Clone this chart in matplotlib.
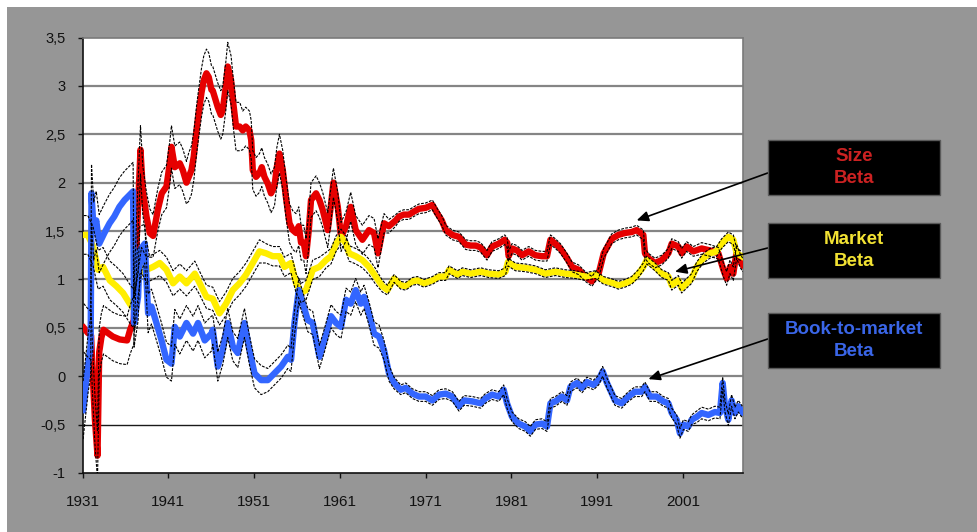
import matplotlib.pyplot as plt
from matplotlib.patches import Rectangle
import numpy as np

plt.rcParams["font.family"] = ["Liberation Sans", "DejaVu Sans"]

W, H = 977, 532

# Rolling factor betas (point estimate and standard error)
size_year = [
    1931.15, 1931.6, 1932.0, 1932.2, 1932.45, 1932.75, 1932.85, 1932.95, 1933.2, 1933.45,
    1934.53, 1935.35, 1936.2, 1936.55, 1936.98, 1937.33, 1937.76, 1938.03, 1938.46, 1938.84,
    1939.23, 1939.78, 1940.24, 1940.79, 1941.17, 1941.37, 1941.76, 1942.34, 1942.69, 1943.12,
    1943.39, 1943.7, 1943.97, 1944.29, 1944.55, 1944.87, 1945.14, 1945.45, 1945.72, 1946.03,
    1946.19, 1946.77, 1947.12, 1947.35, 1947.7, 1947.93, 1948.32, 1948.58, 1948.9, 1949.33,
    1949.68, 1950.03, 1950.46, 1950.67, 1950.85, 1951.23, 1951.63, 1951.9, 1952.21, 1952.6,
    1952.98, 1953.38, 1953.65, 1953.96, 1954.35, 1954.7, 1955.13, 1955.51, 1955.9, 1956.21,
    1956.48, 1956.79, 1957.06, 1957.38, 1957.64, 1958.23, 1958.62, 1959.0, 1959.59, 1959.94,
    1960.25, 1960.76, 1961.14, 1961.72, 1962.27, 1962.85, 1963.63, 1964.4, 1964.99, 1965.45,
    1966.15, 1966.73, 1967.51, 1967.9, 1968.45, 1969.07, 1969.61, 1970.23, 1971.01, 1971.79,
    1972.37, 1972.88, 1973.34, 1974.12, 1974.89, 1975.67, 1976.26, 1976.84, 1977.42, 1978.16,
    1978.74, 1979.52, 1980.22, 1980.51, 1980.68, 1981.07, 1981.65, 1982.24, 1983.02, 1983.8,
    1984.57, 1985.15, 1985.55, 1986.13, 1986.71, 1987.48, 1988.06, 1988.84, 1989.62, 1990.39,
    1990.79, 1991.17, 1991.76, 1992.34, 1992.69, 1993.47, 1994.24, 1995.02, 1995.6, 1996.38,
    1996.57, 1996.97, 1997.74, 1998.52, 1999.3, 1999.69, 2000.46, 2000.85, 2001.43, 2002.21,
    2003.18, 2004.15, 2005.13, 2005.71, 2006.09, 2006.48, 2006.87, 2007.26, 2007.64, 2007.96,
]
size_beta = [
    0.50, 0.45, 0.42, 0.00, -0.45, -0.82, -0.30, 0.25, 0.40, 0.48,
    0.41, 0.38, 0.37, 0.48, 0.58, 1.44, 2.34, 1.92, 1.65, 1.48,
    1.45, 1.72, 1.89, 1.96, 2.20, 2.37, 2.16, 2.20, 2.13, 2.00,
    2.06, 2.13, 2.27, 2.54, 2.72, 2.93, 3.06, 3.13, 3.09, 2.96,
    2.95, 2.78, 2.70, 2.75, 2.99, 3.20, 3.06, 2.82, 2.58, 2.58,
    2.54, 2.58, 2.54, 2.44, 2.13, 2.06, 2.10, 2.16, 2.06, 1.99,
    1.89, 1.96, 2.16, 2.30, 2.13, 1.86, 1.58, 1.51, 1.48, 1.55,
    1.38, 1.38, 1.24, 1.51, 1.82, 1.89, 1.82, 1.72, 1.51, 1.75,
    2.00, 1.75, 1.44, 1.55, 1.75, 1.51, 1.41, 1.51, 1.48, 1.27,
    1.58, 1.55, 1.61, 1.65, 1.67, 1.67, 1.70, 1.73, 1.74, 1.77,
    1.68, 1.61, 1.51, 1.46, 1.44, 1.36, 1.35, 1.35, 1.33, 1.25,
    1.34, 1.37, 1.41, 1.38, 1.24, 1.32, 1.30, 1.25, 1.29, 1.25,
    1.24, 1.24, 1.41, 1.37, 1.32, 1.22, 1.13, 1.10, 1.03, 0.98,
    1.03, 1.06, 1.27, 1.36, 1.42, 1.46, 1.48, 1.49, 1.51, 1.46,
    1.27, 1.22, 1.17, 1.20, 1.27, 1.37, 1.34, 1.27, 1.34, 1.29,
    1.32, 1.30, 1.27, 1.10, 1.01, 1.13, 1.06, 1.29, 1.20, 1.15,
]
size_se = [
    0.25, 0.25, 0.25, 0.25, 0.25, 0.25, 0.25, 0.25, 0.25, 0.25,
    0.25, 0.25, 0.25, 0.25, 0.25, 0.25, 0.25, 0.25, 0.25, 0.25,
    0.22, 0.22, 0.22, 0.22, 0.22, 0.22, 0.22, 0.22, 0.22, 0.22,
    0.25, 0.25, 0.25, 0.25, 0.25, 0.25, 0.25, 0.25, 0.25, 0.25,
    0.25, 0.25, 0.25, 0.25, 0.25, 0.25, 0.25, 0.25, 0.25, 0.25,
    0.20, 0.20, 0.20, 0.20, 0.20, 0.20, 0.20, 0.20, 0.20, 0.20,
    0.20, 0.20, 0.20, 0.20, 0.20, 0.20, 0.20, 0.20, 0.20, 0.20,
    0.18, 0.18, 0.18, 0.18, 0.18, 0.18, 0.18, 0.18, 0.18, 0.18,
    0.15, 0.15, 0.15, 0.15, 0.15, 0.15, 0.15, 0.15, 0.15, 0.15,
    0.10, 0.07, 0.06, 0.05, 0.05, 0.05, 0.05, 0.05, 0.05, 0.05,
    0.05, 0.05, 0.05, 0.05, 0.05, 0.05, 0.05, 0.05, 0.05, 0.05,
    0.05, 0.05, 0.05, 0.05, 0.05, 0.05, 0.05, 0.05, 0.05, 0.05,
    0.05, 0.05, 0.05, 0.05, 0.05, 0.05, 0.05, 0.05, 0.05, 0.05,
    0.05, 0.05, 0.05, 0.05, 0.05, 0.05, 0.05, 0.05, 0.05, 0.05,
    0.05, 0.05, 0.05, 0.05, 0.05, 0.05, 0.05, 0.05, 0.05, 0.05,
    0.06, 0.06, 0.06, 0.07, 0.07, 0.07, 0.07, 0.07, 0.07, 0.07,
]

market_year = [
    1931.15, 1931.62, 1932.24, 1932.82, 1933.4, 1934.18, 1934.96, 1935.73, 1936.51, 1937.1,
    1937.48, 1937.88, 1938.46, 1939.23, 1940.01, 1940.79, 1941.56, 1942.34, 1943.12, 1944.09,
    1944.67, 1945.45, 1946.19, 1946.97, 1947.74, 1948.52, 1949.3, 1950.07, 1950.85, 1951.63,
    1952.4, 1953.18, 1953.96, 1954.54, 1955.31, 1955.9, 1956.48, 1957.06, 1957.84, 1958.62,
    1959.39, 1959.97, 1960.56, 1961.14, 1961.72, 1962.07, 1962.85, 1963.63, 1964.4, 1965.18,
    1965.96, 1966.55, 1967.32, 1968.1, 1968.68, 1969.46, 1970.04, 1970.81, 1971.79, 1972.56,
    1973.34, 1973.73, 1974.71, 1975.29, 1976.26, 1977.42, 1978.35, 1979.52, 1980.3, 1980.6,
    1981.47, 1982.63, 1983.8, 1984.96, 1986.13, 1987.29, 1988.46, 1989.62, 1990.79, 1991.76,
    1992.92, 1993.47, 1994.24, 1995.02, 1995.8, 1996.38, 1996.77, 1997.74, 1998.52, 1999.3,
    1999.69, 2000.46, 2000.85, 2001.43, 2002.02, 2002.6, 2003.38, 2004.15, 2004.93, 2005.51,
    2006.29, 2006.87, 2007.26, 2007.84,
]
market_beta = [
    1.46, 1.46, 1.34, 1.10, 1.13, 0.99, 0.93, 0.86, 0.75, 0.68,
    0.96, 1.20, 1.10, 1.13, 1.17, 1.10, 0.96, 1.03, 0.96, 1.06,
    0.96, 0.82, 0.80, 0.65, 0.75, 0.89, 0.96, 1.05, 1.17, 1.29,
    1.27, 1.24, 1.24, 1.13, 1.17, 0.96, 0.86, 0.89, 1.10, 1.13,
    1.20, 1.24, 1.37, 1.44, 1.37, 1.27, 1.24, 1.20, 1.13, 1.03,
    0.93, 0.89, 1.01, 0.94, 0.93, 0.98, 0.99, 0.96, 0.99, 1.03,
    1.03, 1.10, 1.05, 1.08, 1.06, 1.08, 1.06, 1.05, 1.08, 1.18,
    1.13, 1.12, 1.10, 1.06, 1.08, 1.06, 1.05, 1.03, 1.05, 0.99,
    0.96, 0.94, 0.96, 0.99, 1.06, 1.13, 1.20, 1.13, 1.06, 1.03,
    0.94, 0.99, 0.91, 0.96, 1.01, 1.13, 1.22, 1.27, 1.29, 1.37,
    1.44, 1.41, 1.27, 1.24,
]
market_se = [
    0.20, 0.20, 0.20, 0.20, 0.20, 0.20, 0.20, 0.20, 0.20, 0.20,
    0.13, 0.13, 0.13, 0.13, 0.13, 0.13, 0.13, 0.13, 0.13, 0.13,
    0.12, 0.12, 0.12, 0.12, 0.12, 0.12, 0.12, 0.12, 0.12, 0.12,
    0.10, 0.10, 0.10, 0.10, 0.10, 0.10, 0.10, 0.10, 0.10, 0.10,
    0.08, 0.08, 0.08, 0.08, 0.08, 0.08, 0.08, 0.08, 0.08, 0.08,
    0.06, 0.05, 0.04, 0.04, 0.04, 0.04, 0.04, 0.04, 0.04, 0.04,
    0.04, 0.04, 0.04, 0.04, 0.04, 0.04, 0.04, 0.04, 0.04, 0.04,
    0.04, 0.04, 0.04, 0.04, 0.04, 0.04, 0.04, 0.04, 0.04, 0.04,
    0.04, 0.04, 0.04, 0.04, 0.04, 0.04, 0.04, 0.04, 0.04, 0.04,
    0.05, 0.05, 0.05, 0.05, 0.05, 0.05, 0.05, 0.05, 0.05, 0.05,
    0.05, 0.05, 0.05, 0.05,
]

btm_year = [
    1931.07, 1931.65, 1931.95, 1932.05, 1932.3, 1932.6, 1932.95, 1933.55, 1934.15, 1934.7,
    1935.3, 1935.9, 1936.9, 1937.01, 1937.48, 1937.68, 1938.26, 1938.65, 1939.04, 1939.62,
    1940.21, 1940.79, 1941.37, 1941.76, 1942.34, 1943.12, 1943.89, 1944.47, 1945.25, 1946.03,
    1946.19, 1946.77, 1947.35, 1947.93, 1948.52, 1949.1, 1949.88, 1950.46, 1951.05, 1951.82,
    1952.6, 1953.38, 1954.15, 1954.93, 1955.31, 1955.71, 1956.21, 1956.68, 1957.26, 1957.84,
    1958.62, 1959.2, 1959.97, 1960.56, 1961.14, 1961.72, 1962.27, 1962.85, 1963.44, 1963.82,
    1964.4, 1964.99, 1965.57, 1966.15, 1966.73, 1967.32, 1968.1, 1968.68, 1969.46, 1970.23,
    1971.01, 1971.79, 1972.56, 1973.34, 1974.12, 1974.89, 1975.48, 1976.45, 1977.42, 1977.97,
    1978.74, 1979.52, 1980.1, 1980.49, 1981.07, 1981.85, 1982.63, 1983.21, 1983.8, 1984.57,
    1985.15, 1985.55, 1986.13, 1986.9, 1987.48, 1987.88, 1988.65, 1989.23, 1989.81, 1990.58,
    1991.17, 1991.64, 1992.14, 1992.72, 1993.07, 1993.85, 1994.64, 1995.41, 1996.19, 1996.57,
    1997.15, 1997.93, 1998.71, 1999.3, 1999.69, 2000.27, 2000.65, 2001.05, 2001.63, 2002.01,
    2002.6, 2003.18, 2003.96, 2004.73, 2005.31, 2005.63, 2005.9, 2006.29, 2006.67, 2007.06,
    2007.45, 2007.92,
]
btm_beta = [
    -0.35, 0.13, 0.30, 1.89, 1.50, 1.61, 1.37, 1.48, 1.58, 1.65,
    1.75, 1.82, 1.91, 0.55, 0.82, 1.30, 1.37, 0.65, 0.72, 0.55,
    0.37, 0.17, 0.13, 0.51, 0.41, 0.55, 0.44, 0.55, 0.37, 0.44,
    0.48, 0.10, 0.27, 0.55, 0.31, 0.24, 0.55, 0.27, 0.03, -0.04,
    -0.04, 0.03, 0.10, 0.20, 0.17, 0.55, 0.89, 0.75, 0.58, 0.55,
    0.20, 0.37, 0.62, 0.55, 0.51, 0.79, 0.75, 0.89, 0.75, 0.82,
    0.65, 0.44, 0.41, 0.27, 0.03, -0.07, -0.14, -0.12, -0.18, -0.21,
    -0.21, -0.25, -0.19, -0.18, -0.21, -0.31, -0.25, -0.26, -0.28, -0.23,
    -0.19, -0.21, -0.14, -0.28, -0.42, -0.49, -0.52, -0.57, -0.50, -0.49,
    -0.52, -0.28, -0.26, -0.21, -0.25, -0.11, -0.07, -0.12, -0.06, -0.09,
    -0.04, 0.05, -0.07, -0.18, -0.25, -0.28, -0.21, -0.16, -0.16, -0.11,
    -0.21, -0.21, -0.26, -0.28, -0.38, -0.45, -0.59, -0.50, -0.52, -0.45,
    -0.42, -0.38, -0.40, -0.37, -0.38, -0.07, -0.31, -0.45, -0.25, -0.38,
    -0.31, -0.37,
]
btm_se = [
    0.30, 0.30, 0.30, 0.30, 0.30, 0.30, 0.30, 0.30, 0.30, 0.30,
    0.30, 0.30, 0.30, 0.25, 0.25, 0.25, 0.20, 0.20, 0.18, 0.18,
    0.18, 0.18, 0.18, 0.18, 0.18, 0.18, 0.18, 0.18, 0.18, 0.18,
    0.15, 0.15, 0.15, 0.15, 0.15, 0.15, 0.15, 0.15, 0.15, 0.15,
    0.12, 0.12, 0.12, 0.12, 0.12, 0.12, 0.12, 0.12, 0.12, 0.12,
    0.12, 0.12, 0.12, 0.12, 0.12, 0.12, 0.12, 0.12, 0.12, 0.12,
    0.12, 0.12, 0.12, 0.10, 0.08, 0.06, 0.05, 0.05, 0.05, 0.05,
    0.05, 0.05, 0.05, 0.05, 0.05, 0.05, 0.05, 0.05, 0.05, 0.05,
    0.05, 0.05, 0.05, 0.05, 0.05, 0.05, 0.05, 0.05, 0.05, 0.05,
    0.05, 0.05, 0.05, 0.05, 0.05, 0.05, 0.05, 0.05, 0.05, 0.05,
    0.05, 0.05, 0.05, 0.05, 0.05, 0.05, 0.05, 0.05, 0.05, 0.05,
    0.05, 0.05, 0.05, 0.05, 0.05, 0.05, 0.05, 0.05, 0.05, 0.05,
    0.06, 0.06, 0.06, 0.06, 0.06, 0.06, 0.06, 0.06, 0.06, 0.06,
    0.06, 0.06,
]

x_ticks = [1931, 1941, 1951, 1961, 1971, 1981, 1991, 2001]
y_ticks = [-1, -0.5, 0, 0.5, 1, 1.5, 2, 2.5, 3, 3.5]
y_tick_labels = ["-1", "-0,5", "0", "0,5", "1", "1,5", "2", "2,5", "3", "3,5"]

series = [
    ("Size\nBeta", size_year, size_beta, size_se, "#e60000", "#cc2222", (1995.6, 1.61), 173),
    ("Market\nBeta", market_year, market_beta, market_se, "#ffee00", "#f2e233", (2000.07, 1.08), 248),
    ("Book-to-market\nBeta", btm_year, btm_beta, btm_se, "#3366ff", "#3a66e8", (1996.97, -0.03), 339),
]
box_tops = [140, 223, 313]

fig = plt.figure(figsize=(W / 100, H / 100), dpi=100)
fig.patch.set_facecolor("white")
fig.patches.append(Rectangle((7 / W, 0), 1, 1 - 7 / H, transform=fig.transFigure,
                             facecolor="#969696", edgecolor="none", zorder=-10))

ax = fig.add_axes([82.5 / W, 1 - 473 / H, 660.5 / W, 435.5 / H])
ax.set_facecolor("white")
ax.set_xlim(1931, 2008)
ax.set_ylim(-1, 3.5)

for y in y_ticks[1:-1]:
    if y == -0.5:
        ax.axhline(y, color="#1a1a1a", lw=1.0, zorder=1)
    else:
        ax.axhline(y, color="#858585", lw=1.6, zorder=1)

for _, yr, b, se, col, _, _, _ in series:
    ax.plot(yr, b, color=col, lw=4.6, solid_joinstyle="round", zorder=3)

for _, yr, b, se, col, _, _, _ in series:
    b = np.array(b)
    se = np.array(se)
    for band in (b + se, b - se):
        ax.plot(yr, band, color="black", lw=0.8, ls=(0, (2.5, 1.2)), zorder=4)

ax.set_xticks(x_ticks)
ax.set_xticklabels([str(t) for t in x_ticks])
ax.set_yticks(y_ticks)
ax.set_yticklabels(y_tick_labels)
ax.tick_params(axis="x", direction="out", length=3.8, width=1, pad=12, labelsize=11, colors="#111111")
ax.tick_params(axis="y", direction="out", length=3.8, width=1, pad=8.5, labelsize=10.5, colors="#111111")

for side in ("left", "bottom"):
    ax.spines[side].set_color("#111111")
    ax.spines[side].set_linewidth(1.2)
for side in ("top", "right"):
    ax.spines[side].set_color("#7a7a7a")
    ax.spines[side].set_linewidth(1.2)

# Labelled boxes with arrows pointing to each series
bx0, bx1 = 767.7, 940
for (label, _, _, _, _, tcol, tip, ay), top in zip(series, box_tops):
    fig.patches.append(Rectangle((bx0 / W, 1 - (top + 54.5) / H), (bx1 - bx0) / W, 54.5 / H,
                                 transform=fig.transFigure, facecolor="black",
                                 edgecolor="#5a5a5a", lw=1, zorder=5))
    fig.text((bx0 + bx1) / 2 / W, 1 - (top + 27.5) / H, label, color=tcol, fontsize=13.5,
             fontweight="bold", ha="center", va="center", linespacing=1.45, zorder=6)
    ax.annotate("", xy=tip, xycoords="data", xytext=(bx0 / W, 1 - ay / H),
                textcoords="figure fraction", annotation_clip=False,
                arrowprops=dict(arrowstyle="-|>,head_length=0.5,head_width=0.22",
                                color="black", lw=1.2, mutation_scale=14,
                                shrinkA=0, shrinkB=0), zorder=6)

fig.savefig("out.png", dpi=100)
